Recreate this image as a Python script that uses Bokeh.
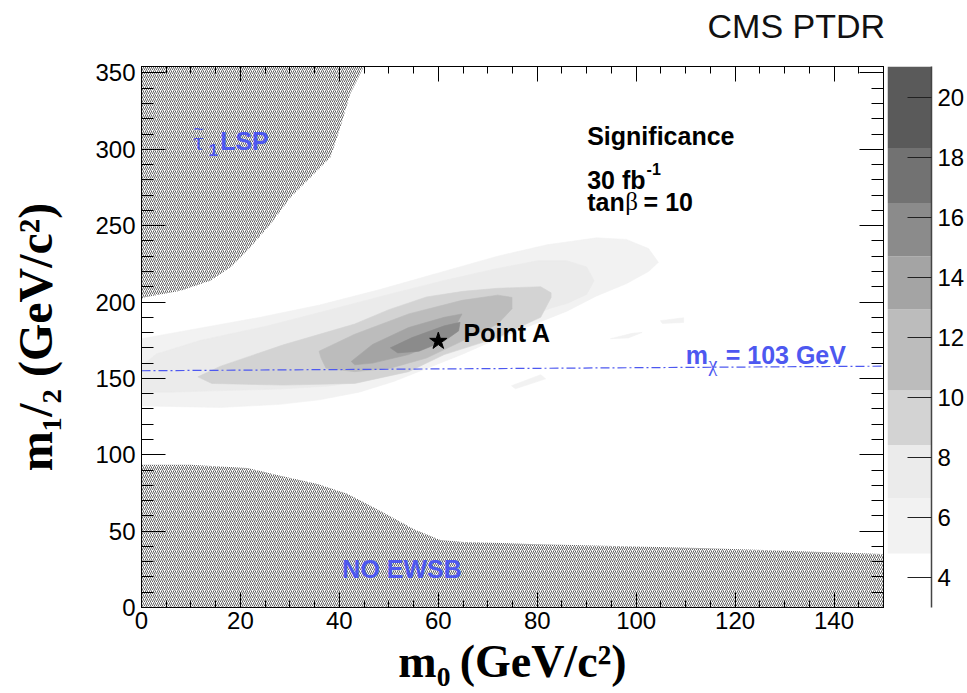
import math
from bokeh.plotting import figure
from bokeh.models import (LinearAxis, SingleIntervalTicker, FixedTicker, Label, Range1d,
                          CustomLabelingPolicy)
from bokeh.layouts import row, column
from bokeh.embed import file_html
from bokeh.resources import INLINE

# ---------------- data ----------------
# significance contour regions (m0, m1/2), lightest level first
band_levels = [4.81, 6.65, 8.42, 10.23, 12.93, 14.7]
band_colors = ["#f2f2f2", "#ebebeb", "#d3d3d3", "#bcbcbc", "#a4a4a4", "#8b8b8b"]

bandA_m0 = [0, 12, 24, 36, 48, 60, 72, 82, 92, 98, 102.5, 104.5, 102.5, 98, 92, 86, 79, 72, 65, 58, 51, 44, 36, 28, 16, 0]
bandA_m12 = [176, 183, 190, 198, 208, 219, 230, 237.5, 242, 241, 235, 226, 220, 212, 204, 194, 185, 176, 166, 157, 148, 141, 136, 133, 131, 132]
fragA1_m0 = [94.8, 99.2, 101.2, 98.4]
fragA1_m12 = [176.0, 179.5, 180.1, 176.5]
fragA2_m0 = [104.9, 109.6, 109.6, 105.3]
fragA2_m12 = [187.8, 189.7, 186.6, 186.0]
fragA3_m0 = [74.8, 80.7, 81.7, 75.6]
fragA3_m12 = [145.2, 152.4, 149.7, 143.2]

bandB_m0 = [0, 3, 12, 25, 37, 50, 61, 72, 80, 86, 90, 91.5, 90, 86, 82.7, 77, 72, 65, 58, 52, 46, 38, 28, 16, 6, 0]
bandB_m12 = [158, 166, 175, 184, 194, 205, 214, 222, 227, 227, 223, 214, 205, 199, 196, 189, 181, 171, 162, 155, 149, 145, 143, 142, 141, 141]

bandC_m0 = [11.4, 16, 28.7, 43.1, 50, 57.6, 65, 72, 80.7, 82.8, 82.8, 80.7, 76, 72, 61.2, 54, 43.1, 28.7, 14.2]
bandC_m12 = [151, 158, 172, 185.6, 195, 203.3, 207, 209, 210, 206, 203, 190, 183, 176.7, 165.6, 154.4, 146.7, 145.6, 146.7]

bandD_m0 = [35.9, 43.1, 54, 64.8, 72, 74.9, 74.9, 72, 64.8, 57.6, 50.3, 43.1, 37.3, 36.3]
bandD_m12 = [167.8, 178.9, 192.2, 201.1, 204.5, 203, 195.6, 185.6, 174.4, 163.3, 156.7, 154.4, 156.7, 163.3]

bandE_m0 = [42.4, 46.7, 54, 61.2, 64.8, 63.3, 59, 54, 46.7, 43.1]
bandE_m12 = [161.1, 172.2, 183.3, 190, 192.2, 183.3, 172.2, 165.6, 160, 158.9]

bandF_m0 = [50.3, 54.7, 61.2, 64.4, 64.1, 61.2, 56.1, 51.8]
bandF_m12 = [170, 176.7, 184.4, 186.7, 181.1, 174.4, 167.8, 166.7]

# excluded regions (hatched)
stau_m0 = [0, 0.5, 7.9, 13.9, 18.0, 22.0, 26.1, 30.1, 34.2, 38.2, 40.2, 42.2, 44.9, 45.5, 0]
stau_m12 = [202.0, 203.0, 207.4, 214.0, 222.7, 235.8, 251.1, 268.5, 281.7, 294.8, 314.4, 336.3, 353.8, 360, 360]

ewsb_m0 = [0, 9.9, 21.4, 28.1, 35.6, 41.6, 48.3, 55.0, 60.4, 65.1, 78.6, 113.0, 150, 150, 0]
ewsb_m12 = [93.4, 93.4, 91.4, 86.2, 80.9, 74.4, 63.2, 51.4, 44.2, 42.9, 41.6, 39.0, 35.1, -5, -5]

# chargino mass contour m_chi = 103 GeV
mchi_m0 = [0, 150]
mchi_m12 = [155, 158]

# benchmark point A
pointA_m0 = [60]
pointA_m12 = [174.4]

# colour scale
cbar_lo = [4.81, 6.65, 8.42, 10.23, 12.93, 14.7, 16.48, 18.31]
cbar_hi = [6.65, 8.42, 10.23, 12.93, 14.7, 16.48, 18.31, 21.02]
cbar_colors = ["#f2f2f2", "#ebebeb", "#d3d3d3", "#bcbcbc", "#a4a4a4", "#8b8b8b", "#727272", "#5a5a5a"]
cbar_ticks = [4, 6, 8, 10, 12, 14, 16, 18, 20]

x_title = "m\u2080\u2009(GeV/c\u00b2)"
y_title = "m\u2081/\u2082 (GeV/c\u00b2)"
header = "CMS PTDR"

# ---------------- layout constants ----------------
W, H = 967, 693
H_HDR = 50
W_MAIN = 886
W_CB = W - W_MAIN
H_BODY = H - H_HDR
FL, FR, FT, FB = 141, 883, 66, 607          # frame edges on the page
XR = (0, 150)
YR = (0, 354.2)
BLUE = "#4d58f0"
SANS = "Liberation Sans"
SERIF = "Liberation Serif"

# ---------------- header strip ----------------
hdr = figure(width=W, height=H_HDR, x_range=Range1d(0, W), y_range=Range1d(H_HDR, 0),
             output_backend="svg", toolbar_location=None, title=None,
             x_axis_location=None, y_axis_location=None,
             min_border_left=0, min_border_right=0, min_border_top=0, min_border_bottom=0)
hdr.grid.visible = False
hdr.outline_line_color = None
hdr.background_fill_color = "white"
hdr.border_fill_color = "white"
hdr.add_layout(Label(x=707, y=25, text=header, text_font=SANS, text_font_size="34px",
                     text_font_style="normal", text_color="#111111",
                     text_align="left", text_baseline="alphabetic"))

# ---------------- main plot ----------------
p = figure(width=W_MAIN, height=H_BODY, x_range=Range1d(*XR), y_range=Range1d(*YR),
           output_backend="svg", toolbar_location=None,
           x_axis_location=None, y_axis_location=None,
           min_border_left=FL, min_border_right=W_MAIN - FR,
           min_border_top=FT - H_HDR, min_border_bottom=H - FB)
p.grid.visible = False
p.outline_line_color = "black"
p.outline_line_width = 1
p.background_fill_color = "white"
p.border_fill_color = "white"

# contour bands
bands = [
    (bandA_m0, bandA_m12, band_colors[0]),
    (fragA1_m0, fragA1_m12, band_colors[0]),
    (fragA2_m0, fragA2_m12, band_colors[0]),
    (fragA3_m0, fragA3_m12, band_colors[0]),
    (bandB_m0, bandB_m12, band_colors[1]),
    (bandC_m0, bandC_m12, band_colors[2]),
    (bandD_m0, bandD_m12, band_colors[3]),
    (bandE_m0, bandE_m12, band_colors[4]),
    (bandF_m0, bandF_m12, band_colors[5]),
]
for xs, ys, c in bands:
    p.patch(xs, ys, fill_color=c, line_color=c, line_width=0.6)

# hatched excluded regions
for xs, ys in [(stau_m0, stau_m12), (ewsb_m0, ewsb_m12)]:
    p.patch(xs, ys, fill_color=None, line_color=None,
            hatch_pattern="/", hatch_color="#3a3a3a", hatch_scale=4, hatch_weight=0.8)

# m_chi line
p.line(mchi_m0, mchi_m12, line_color=BLUE, line_width=1.2, line_dash="9 3 2 3")

# point A
p.scatter(pointA_m0, pointA_m12, marker="star", size=18, fill_color="black", line_color="black")

NO_LABELS = CustomLabelingPolicy(code="""
try {
    for (const i of [...indices]) { indices.unset(i) }
} catch (e) {}
return indices
""")


def mk_axis(interval, nminor, tin, tmin, labels, standoff=6):
    ax = LinearAxis(ticker=SingleIntervalTicker(interval=interval, num_minor_ticks=nminor))
    ax.axis_line_color = "black"
    ax.major_tick_line_color = "black"
    ax.minor_tick_line_color = "black"
    ax.major_tick_in = tin
    ax.major_tick_out = 0
    ax.minor_tick_in = tmin
    ax.minor_tick_out = 0
    if labels:
        ax.major_label_text_font = SANS
        ax.major_label_text_font_size = "24px"
        ax.major_label_text_color = "black"
        ax.major_label_standoff = standoff
    else:
        ax.major_label_text_font_size = "0px"
        ax.major_label_standoff = 0
        ax.major_label_policy = NO_LABELS
    return ax


xax = mk_axis(20, 4, 15, 7, True, 4)
xax.axis_label = x_title
xax.axis_label_text_font = SERIF
xax.axis_label_text_font_style = "bold"
xax.axis_label_text_font_size = "46px"
xax.axis_label_text_color = "black"
xax.axis_label_standoff = 4
p.add_layout(xax, "below")

yax = mk_axis(50, 5, 24, 12, True, 6)
yax.axis_label = y_title
yax.axis_label_text_font = SERIF
yax.axis_label_text_font_style = "bold"
yax.axis_label_text_font_size = "48px"
yax.axis_label_text_color = "black"
yax.axis_label_standoff = 30
p.add_layout(yax, "left")

p.add_layout(mk_axis(20, 4, 15, 7, False), "above")
p.add_layout(mk_axis(50, 5, 24, 12, False), "right")


def lab(x, y, text, size, font=SANS, style="bold", color="black"):
    p.add_layout(Label(x=x, y=y, text=text, text_font=font, text_font_size=size,
                       text_font_style=style, text_color=color,
                       text_align="left", text_baseline="alphabetic"))


# texts inside the frame
lab(90.1, 309.0, "Significance", "25px")
lab(90.1, 279.6, "30 fb", "25px")
lab(102.1, 286.8, "-1", "16px")
lab(90.1, 265.8, "tan", "25px")
lab(97.8, 265.8, "β", "25px", font=SERIF, style="normal")
lab(101.5, 265.8, "= 10", "25px")
lab(65.1, 180.0, "Point A", "25px")
lab(10.5, 305.1, "τ", "26px", font=SERIF, style="normal", color=BLUE)
lab(10.5, 313.5, "~", "18px", style="normal", color=BLUE)
lab(13.6, 299.8, "1", "17px", color=BLUE)
lab(15.9, 305.1, "LSP", "25px", color=BLUE)
lab(40.6, 25.5, "NO EWSB", "25px", color=BLUE)
lab(110.0, 165.0, "m", "25px", color=BLUE)
lab(114.6, 159.1, "χ", "20px", font=SERIF, style="normal", color=BLUE)
lab(118.1, 165.0, "= 103 GeV", "25px", color=BLUE)

# ---------------- colour bar ----------------
cb = figure(width=W_CB, height=H_BODY, x_range=Range1d(0, 1), y_range=Range1d(3.01, 21.02),
            output_backend="svg", toolbar_location=None,
            x_axis_location=None, y_axis_location=None,
            min_border_left=887 - W_MAIN, min_border_right=W - 932,
            min_border_top=FT - H_HDR, min_border_bottom=H - FB)
cb.grid.visible = False
cb.outline_line_color = None
cb.background_fill_color = "white"
cb.border_fill_color = "white"
cb.quad(left=0, right=1, bottom=cbar_lo, top=cbar_hi, fill_color=cbar_colors, line_color=None)
cax = LinearAxis(ticker=FixedTicker(ticks=cbar_ticks, minor_ticks=[]))
cax.axis_line_color = "#444444"
cax.axis_line_width = 1.5
cax.major_tick_line_color = "#222222"
cax.major_tick_in = 24
cax.major_tick_out = 0
cax.minor_tick_in = 0
cax.minor_tick_out = 0
cax.major_label_text_font = SANS
cax.major_label_text_font_size = "24px"
cax.major_label_text_color = "black"
cax.major_label_standoff = 6
cb.add_layout(cax, "right")

layout = column(hdr, row(p, cb))
open("out.html", "w").write(file_html(layout, INLINE))
